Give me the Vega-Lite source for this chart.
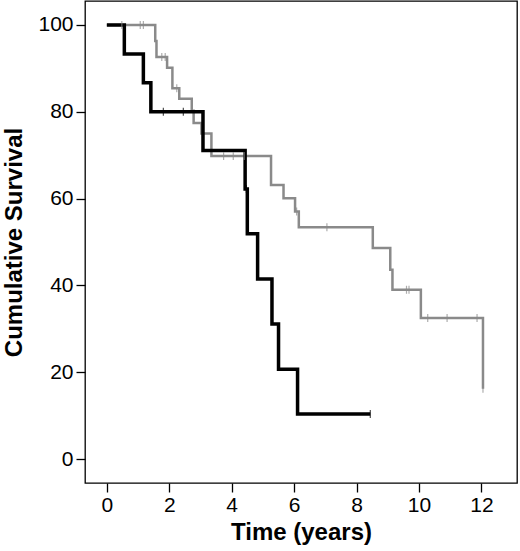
{
  "$schema": "https://vega.github.io/schema/vega-lite/v6.json",
  "width": 432,
  "height": 482,
  "autosize": "none",
  "padding": {"left": 85, "top": 1, "right": 3, "bottom": 68},
  "datasets": {
    "curves": [
      {"group": "Group 2", "t": 0, "s": 100},
      {"group": "Group 2", "t": 1.55, "s": 96.3},
      {"group": "Group 2", "t": 1.59, "s": 92.6},
      {"group": "Group 2", "t": 1.93, "s": 90.1},
      {"group": "Group 2", "t": 2.1, "s": 85.4},
      {"group": "Group 2", "t": 2.32, "s": 83.0},
      {"group": "Group 2", "t": 2.72, "s": 80.2},
      {"group": "Group 2", "t": 2.78, "s": 77.4},
      {"group": "Group 2", "t": 3.03, "s": 75.0},
      {"group": "Group 2", "t": 3.35, "s": 69.8},
      {"group": "Group 2", "t": 5.26, "s": 63.1},
      {"group": "Group 2", "t": 5.66, "s": 60.1},
      {"group": "Group 2", "t": 6.03, "s": 57.0},
      {"group": "Group 2", "t": 6.15, "s": 53.4},
      {"group": "Group 2", "t": 8.52, "s": 48.6},
      {"group": "Group 2", "t": 9.08, "s": 43.6},
      {"group": "Group 2", "t": 9.15, "s": 39.0},
      {"group": "Group 2", "t": 10.06, "s": 32.5},
      {"group": "Group 2", "t": 12.05, "s": 16.2},
      {"group": "Group 1", "t": 0, "s": 100},
      {"group": "Group 1", "t": 0.56, "s": 93.3},
      {"group": "Group 1", "t": 1.17, "s": 86.7},
      {"group": "Group 1", "t": 1.41, "s": 80.0},
      {"group": "Group 1", "t": 3.08, "s": 71.1},
      {"group": "Group 1", "t": 4.43, "s": 62.2},
      {"group": "Group 1", "t": 4.5, "s": 51.9},
      {"group": "Group 1", "t": 4.83, "s": 41.5},
      {"group": "Group 1", "t": 5.29, "s": 31.1},
      {"group": "Group 1", "t": 5.5, "s": 20.7},
      {"group": "Group 1", "t": 6.11, "s": 10.4},
      {"group": "Group 1", "t": 8.44, "s": 10.4}
    ],
    "censored": [
      {"group": "Group 2", "t": 0.48, "s": 100},
      {"group": "Group 2", "t": 1.07, "s": 100},
      {"group": "Group 2", "t": 1.17, "s": 100},
      {"group": "Group 2", "t": 1.76, "s": 92.6},
      {"group": "Group 2", "t": 1.87, "s": 92.6},
      {"group": "Group 2", "t": 2.24, "s": 85.4},
      {"group": "Group 2", "t": 3.74, "s": 69.8},
      {"group": "Group 2", "t": 4.05, "s": 69.8},
      {"group": "Group 2", "t": 4.4, "s": 69.8},
      {"group": "Group 2", "t": 6.08, "s": 57.0},
      {"group": "Group 2", "t": 7.05, "s": 53.4},
      {"group": "Group 2", "t": 9.6, "s": 39.0},
      {"group": "Group 2", "t": 9.68, "s": 39.0},
      {"group": "Group 2", "t": 10.28, "s": 32.5},
      {"group": "Group 2", "t": 10.9, "s": 32.5},
      {"group": "Group 2", "t": 11.86, "s": 32.5},
      {"group": "Group 2", "t": 12.05, "s": 16.2},
      {"group": "Group 1", "t": 1.81, "s": 80.0},
      {"group": "Group 1", "t": 2.45, "s": 80.0},
      {"group": "Group 1", "t": 4.47, "s": 62.2},
      {"group": "Group 1", "t": 8.44, "s": 10.4}
    ]
  },
  "encoding": {
    "x": {
      "field": "t",
      "type": "quantitative",
      "title": "Time (years)",
      "scale": {"domain": [-0.7, 13.14], "nice": false, "zero": false},
      "axis": {"values": [0, 2, 4, 6, 8, 10, 12], "labelPadding": 2, "titlePadding": 5}
    },
    "y": {
      "field": "s",
      "type": "quantitative",
      "title": "Cumulative Survival",
      "scale": {"domain": [-5.5, 105.5], "nice": false, "zero": false},
      "axis": {"values": [0, 20, 40, 60, 80, 100], "labelPadding": 3, "titlePadding": 11}
    },
    "color": {
      "field": "group",
      "type": "nominal",
      "scale": {"domain": ["Group 1", "Group 2"], "range": ["#000000", "#8a8a8a"]},
      "legend": null
    }
  },
  "layer": [
    {
      "data": {"name": "curves"},
      "mark": {"type": "line", "interpolate": "step-after"},
      "encoding": {
        "strokeWidth": {
          "field": "group",
          "type": "nominal",
          "scale": {"domain": ["Group 1", "Group 2"], "range": [3.5, 2.5]},
          "legend": null
        }
      }
    },
    {
      "data": {"name": "censored"},
      "mark": {"type": "tick", "orient": "vertical", "size": 8, "thickness": 1.2}
    }
  ],
  "config": {
    "font": "Liberation Sans",
    "view": {"stroke": "#000000", "strokeWidth": 1.3},
    "axis": {
      "domain": false,
      "grid": false,
      "tickSize": 9,
      "tickColor": "#000000",
      "tickWidth": 1.3,
      "labelFontSize": 21,
      "labelColor": "#000000",
      "labelFont": "Liberation Sans",
      "titleFontSize": 24,
      "titleFontWeight": "bold",
      "titleColor": "#000000",
      "titleFont": "Liberation Sans"
    }
  }
}
